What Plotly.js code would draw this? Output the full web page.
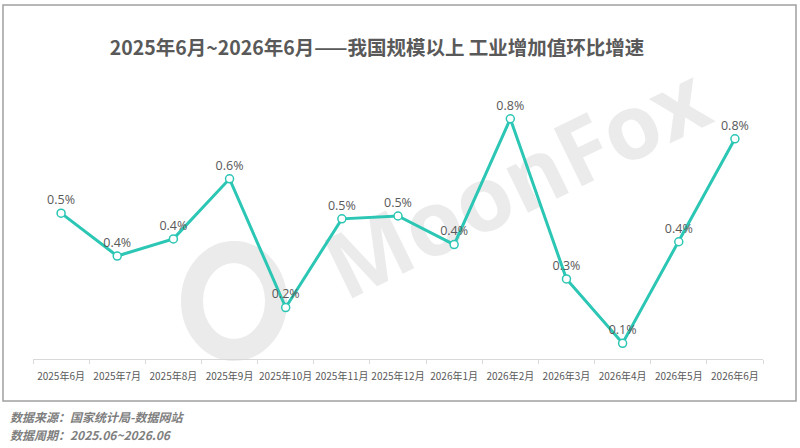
<!DOCTYPE html>
<html>
<head>
<meta charset="utf-8">
<script src="https://cdn.plot.ly/plotly-3.0.1.min.js"></script>
<style>
html,body{margin:0;padding:0;background:#fff;}
#wrap{position:relative;width:800px;height:448px;}
#bg,#chart{position:absolute;left:0;top:0;width:800px;height:448px;}
</style>
</head>
<body>
<div id="wrap"><div id="bg"></div><div id="chart"></div></div>
<script>
// ---- data ----
const months = ["2025年6月","2025年7月","2025年8月","2025年9月","2025年10月","2025年11月","2025年12月",
                "2026年1月","2026年2月","2026年3月","2026年4月","2026年5月","2026年6月"];
const growth = [0.51, 0.36, 0.42, 0.63, 0.18, 0.49, 0.50, 0.40, 0.84, 0.28, 0.055, 0.41, 0.77];
const titleText = "2025年6月~2026年6月——我国规模以上 工业增加值环比增速";
const sourceText = "数据来源：国家统计局-数据网站";
const periodText = "数据周期：2025.06~2026.06";
const watermarkText = "MoonFox";

// ---- layout helpers (pixel -> paper) ----
const W = 800, H = 448;
const L = 33, R = 37, T = 73, B = 89;
const PW = W - L - R, PH = H - T - B;
const px = x => (x - L) / PW;
const py = y => (H - B - y) / PH;

const CJK = '"Noto Sans CJK SC", "Noto Sans", sans-serif';
const gray = '#595959';
const teal = '#2BC6B4';
const wm = '#ebebeb';

// ---- background layer: border + watermark ----
const bgLayout = {
  width: W, height: H,
  margin: {l: L, r: R, t: T, b: B, pad: 0},
  paper_bgcolor: '#ffffff', plot_bgcolor: '#ffffff',
  xaxis: {visible: false, range: [0, 1]}, yaxis: {visible: false, range: [0, 1]},
  shapes: [
    {type: 'rect', xref: 'paper', yref: 'paper', x0: px(3), x1: px(796), y0: py(5), y1: py(401),
     line: {color: '#a0a0a0', width: 1.5}, fillcolor: 'rgba(0,0,0,0)'},
    {type: 'circle', xref: 'paper', yref: 'paper', x0: px(192), x1: px(276), y0: py(252), y1: py(350),
     line: {color: wm, width: 22}, fillcolor: 'rgba(0,0,0,0)'}
  ],
  annotations: [
    {text: watermarkText, xref: 'paper', yref: 'paper', x: px(515), y: py(180), showarrow: false,
     textangle: -26, font: {family: '"Open Sans", "DejaVu Sans", sans-serif', size: 90, color: wm, weight: 700},
     xanchor: 'center', yanchor: 'middle'}
  ]
};
Plotly.newPlot('bg', [], bgLayout, {displayModeBar: false, staticPlot: true});

// ---- main chart ----
const trace = {
  type: 'scatter',
  mode: 'lines+markers+text',
  x: months,
  y: growth,
  line: {color: teal, width: 3},
  marker: {size: 8, color: '#ffffff', line: {color: teal, width: 1.5}},
  texttemplate: '%{y:.1f}%',
  textposition: 'top center',
  textfont: {family: '"Open Sans", "Noto Sans", sans-serif', size: 12.5, color: gray},
  cliponaxis: false,
  hoverinfo: 'skip'
};

const footFont = {family: CJK, size: 12, color: '#7f7f7f', style: 'italic', weight: 700};

const layout = {
  width: W, height: H,
  margin: {l: L, r: R, t: T, b: B, pad: 0},
  paper_bgcolor: 'rgba(0,0,0,0)', plot_bgcolor: 'rgba(0,0,0,0)',
  showlegend: false,
  title: {text: titleText, x: 377 / W, xref: 'container', xanchor: 'center',
          y: 1 - 48 / H, yref: 'container', yanchor: 'middle',
          font: {family: CJK, size: 19.5, color: gray, weight: 700}},
  xaxis: {type: 'category', range: [-0.5, 12.5], showline: true, linecolor: '#d9d9d9', linewidth: 1,
          ticks: 'outside', tickson: 'boundaries', ticklen: 4, tickcolor: '#d9d9d9', tickwidth: 1,
          showgrid: false, zeroline: false, tickangle: 0, ticklabelstandoff: 8,
          tickfont: {family: CJK, size: 10, color: gray}, fixedrange: true},
  yaxis: {range: [0, 1], visible: false, showgrid: false, zeroline: false, fixedrange: true},
  annotations: [
    {text: sourceText, xref: 'paper', yref: 'paper', x: px(8), y: py(416), showarrow: false,
     xanchor: 'left', yanchor: 'middle', align: 'left', font: footFont},
    {text: periodText, xref: 'paper', yref: 'paper', x: px(8), y: py(434), showarrow: false,
     xanchor: 'left', yanchor: 'middle', align: 'left', font: footFont}
  ]
};

Plotly.newPlot('chart', [trace], layout, {displayModeBar: false, staticPlot: true});
</script>
</body>
</html>
